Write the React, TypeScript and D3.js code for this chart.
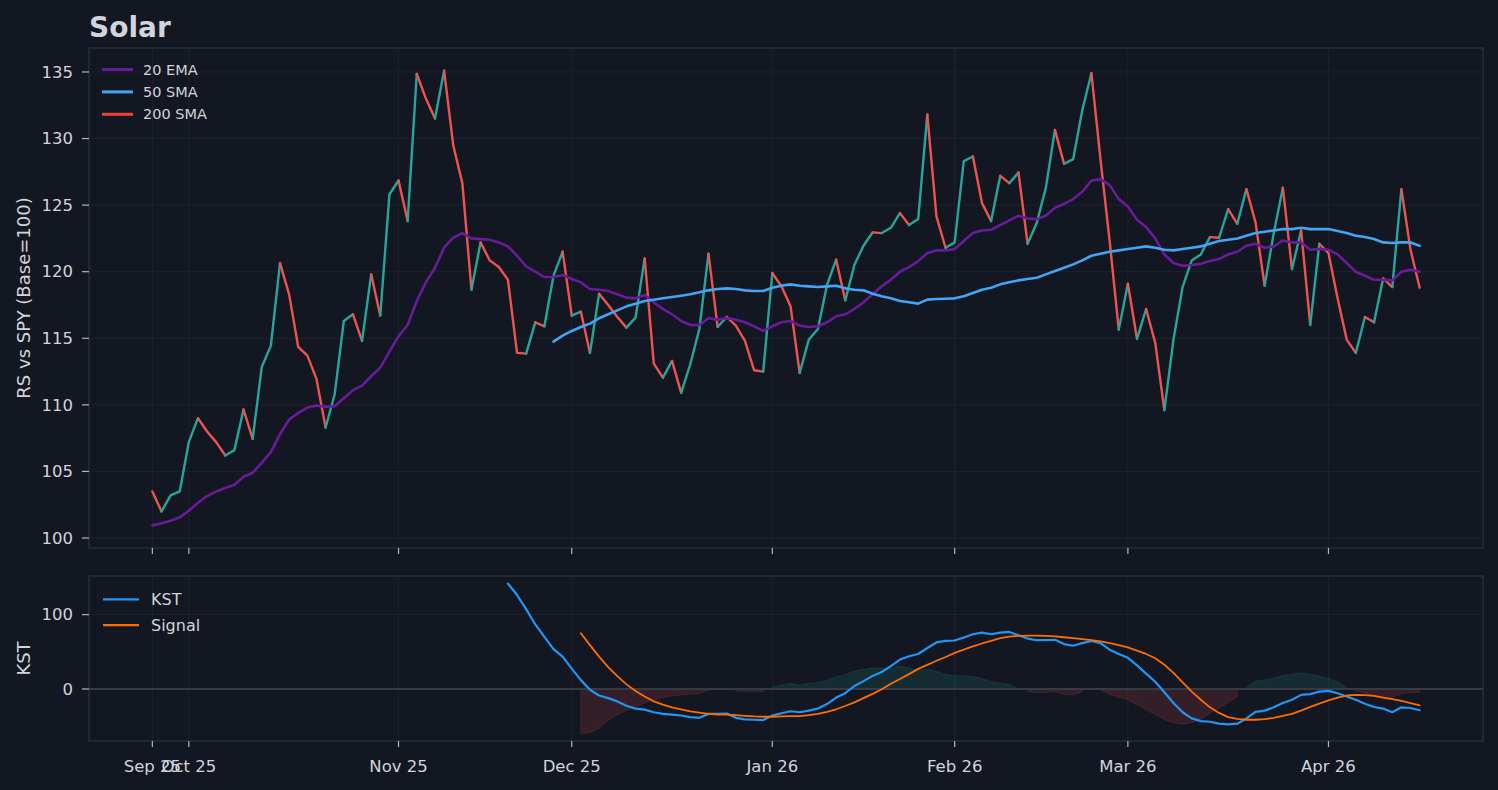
import React, { useEffect } from 'react';
import * as d3 from 'd3';

// trading-day index of each month tick, and its label
const tickIndex = [0, 4, 27, 46, 68, 88, 107, 129];
const tickLabels = ['Sep 25', 'Oct 25', 'Nov 25', 'Dec 25', 'Jan 26', 'Feb 26', 'Mar 26', 'Apr 26'];

// relative strength vs SPY, base 100 (one value per trading day)
const rsValues = [
  103.5, 102.0, 103.2, 103.5, 107.2, 109.0, 108.0, 107.2, 106.2, 106.6,
  109.65, 107.45, 112.85, 114.45, 120.65, 118.3, 114.35, 113.7, 111.95, 108.3,
  110.8, 116.3, 116.8, 114.8, 119.8, 116.7, 125.8, 126.85, 123.8, 134.85,
  133.0, 131.5, 135.1, 129.5, 126.65, 118.65, 122.2, 120.85, 120.35, 119.4,
  113.9, 113.85, 116.2, 115.9, 119.7, 121.5, 116.7, 117.0, 113.9, 118.35,
  117.5, 116.6, 115.8, 116.55, 121.0, 113.1, 112.05, 113.3, 110.9, 113.05,
  115.7, 121.35, 115.85, 116.6, 115.95, 114.8, 112.6, 112.5, 119.9, 118.9,
  117.4, 112.4, 114.9, 115.7, 119.0, 120.9, 117.85, 120.5, 121.95, 122.95,
  122.9, 123.3, 124.4, 123.5, 123.95, 131.8, 124.15, 121.8, 122.2, 128.3,
  128.65, 125.15, 123.8, 127.2, 126.65, 127.45, 122.1, 123.65, 126.3, 130.65,
  128.1, 128.45, 132.15, 134.9, 128.4, 122.3, 115.65, 119.1, 114.95, 117.2,
  114.65, 109.6, 114.9, 118.85, 120.85, 121.3, 122.6, 122.55, 124.7, 123.6,
  126.2, 123.7, 118.95, 122.9, 126.3, 120.2, 123.1, 116.0, 122.1, 121.4,
  118.0, 114.9, 113.9, 116.6, 116.2, 119.5, 118.85, 126.2, 121.65, 118.8,
];

const ema20 = [
  100.95, 101.1, 101.3, 101.55, 102.05, 102.65, 103.15, 103.5, 103.75, 104.0,
  104.6, 104.9, 105.65, 106.45, 107.8, 108.9, 109.4, 109.8, 109.95, 109.85,
  109.9, 110.5, 111.1, 111.45, 112.15, 112.8, 114.0, 115.15, 116.0, 117.8,
  119.2, 120.3, 121.8, 122.55, 122.9, 122.5, 122.45, 122.4, 122.2, 121.9,
  121.2, 120.4, 120.0, 119.6, 119.6, 119.75, 119.45, 119.2, 118.7, 118.65,
  118.55, 118.3, 118.05, 118.0, 118.25, 117.7, 117.2, 116.8, 116.3, 116.0,
  116.0, 116.5, 116.4, 116.5, 116.4, 116.2, 115.9, 115.55, 115.9, 116.2,
  116.3, 115.95, 115.85, 115.9, 116.2, 116.65, 116.8, 117.2, 117.7, 118.3,
  118.9, 119.4, 120.0, 120.35, 120.8, 121.4, 121.6, 121.6, 121.7, 122.3,
  122.9, 123.1, 123.15, 123.5, 123.85, 124.2, 124.0, 123.95, 124.2, 124.8,
  125.1, 125.45, 126.0, 126.85, 126.95, 126.5, 125.45, 124.9, 123.9, 123.35,
  122.5, 121.3, 120.65, 120.45, 120.5, 120.6, 120.8, 120.95, 121.3, 121.5,
  121.95, 122.1, 121.8, 121.9, 122.35, 122.2, 122.2, 121.65, 121.7, 121.65,
  121.3, 120.65, 120.0, 119.7, 119.4, 119.4, 119.35, 120.0, 120.15, 120.0,
];

const sma50Start = 44;
const sma50 = [
  114.75, 115.2, 115.55, 115.85, 116.1, 116.5, 116.8, 117.1, 117.4, 117.6,
  117.8, 117.9, 118.0, 118.1, 118.2, 118.3, 118.45, 118.6, 118.7, 118.75,
  118.7, 118.6, 118.55, 118.55, 118.8, 118.95, 119.05, 118.95, 118.9, 118.85,
  118.9, 118.95, 118.75, 118.65, 118.6, 118.35, 118.15, 118.0, 117.8, 117.7,
  117.6, 117.9, 117.95, 117.97, 118.0, 118.15, 118.4, 118.65, 118.8, 119.05,
  119.2, 119.35, 119.45, 119.55, 119.8, 120.05, 120.3, 120.55, 120.85, 121.2,
  121.35, 121.5, 121.6, 121.7, 121.8, 121.9, 121.8, 121.65, 121.6, 121.7,
  121.8, 121.9, 122.1, 122.3, 122.4, 122.5, 122.7, 122.9, 123.0, 123.1,
  123.2, 123.2, 123.3, 123.2, 123.2, 123.2, 123.05, 122.9, 122.7, 122.6,
  122.45, 122.2, 122.15, 122.2, 122.2, 121.95,
];

const kstStart = 39;
const kst = [
  141.9, 126.4, 107.5, 86.8, 70.0, 53.7, 43.6, 27.3, 11.9, -1.0,
  -8.8, -12.3, -16.7, -22.5, -26.4, -27.8, -31.3, -33.5, -34.4, -35.7,
  -37.9, -38.8, -33.5, -33.5, -33.0, -38.8, -41.0, -41.4, -41.9, -35.7,
  -32.6, -30.0, -31.3, -29.1, -26.4, -20.3, -11.5, -5.7, 4.0, 10.6,
  17.6, 22.9, 30.8, 39.6, 44.1, 47.1, 55.1, 62.6, 64.8, 65.2,
  69.2, 73.6, 75.8, 73.6, 75.8, 76.7, 72.2, 67.8, 65.6, 65.6,
  66.1, 60.4, 58.1, 61.7, 64.8, 61.7, 52.9, 47.1, 41.9, 31.7,
  20.7, 9.7, -4.4, -18.9, -31.3, -39.6, -43.2, -44.1, -46.7, -47.6,
  -46.7, -39.6, -30.8, -29.1, -24.7, -18.9, -14.5, -7.9, -7.0, -3.5,
  -2.6, -5.7, -10.1, -14.5, -19.8, -24.2, -26.4, -31.3, -24.7, -25.6,
  -28.6,
];

const signalStart = 47;
const kstSignal = [
  74.9, 59.0, 43.6, 29.5, 17.2, 6.2, -2.6, -10.1, -16.7, -21.1,
  -24.7, -27.3, -30.0, -31.7, -33.5, -34.4, -34.4, -35.2, -36.1, -37.0,
  -37.4, -37.4, -37.0, -36.6, -36.6, -35.2, -33.5, -30.8, -27.3, -22.9,
  -18.1, -12.3, -6.6, -0.4, 7.0, 13.5, 20.0, 27.0, 32.5, 38.0,
  43.0, 48.5, 53.0, 57.3, 61.2, 64.8, 68.3, 70.5, 71.4, 71.8,
  71.8, 71.4, 70.9, 69.6, 68.3, 67.0, 65.6, 63.9, 61.7, 59.0,
  55.9, 51.5, 47.1, 41.4, 32.6, 21.6, 8.8, -3.5, -14.5, -24.7,
  -32.2, -37.9, -40.1, -41.4, -41.4, -40.5, -38.8, -36.1, -33.5, -29.1,
  -24.2, -19.8, -15.4, -11.5, -8.8, -7.9, -8.4, -9.3, -11.5, -13.7,
  -15.9, -18.9, -22.0,
];

const histStart = 47;
const kstHist = [
  -59.9, -58.6, -52.9, -42.3, -34.4, -29.1, -24.2, -18.9, -14.5, -11.5,
  -9.3, -7.9, -7.0, -6.2, -1.5, -0.5, 0.5, -2.6, -3.5, -3.5,
  -3.5, 2.6, 5.3, 7.5, 5.3, 7.5, 8.8, 11.9, 16.3, 19.4,
  24.2, 26.4, 28.2, 28.2, 27.3, 30.8, 28.2, 25.1, 26.4, 23.8,
  19.4, 18.0, 17.6, 16.7, 14.1, 9.7, 7.9, 6.2, 0.4, -3.5,
  -4.8, -4.4, -3.5, -7.0, -7.9, -3.5, 0.4, -1.3, -7.0, -11.5,
  -14.5, -21.1, -27.8, -34.4, -41.0, -45.4, -47.6, -45.4, -41.0, -32.2,
  -25.6, -18.1, -10.1, 1.8, 10.6, 12.3, 15.0, 18.5, 19.4, 22.0,
  19.4, 17.6, 14.1, 9.7, 1.8, -2.6, -5.7, -10.1, -12.3, -11.5,
  -6.2, -4.8, -4.8,
];

const upperTicks = [100, 105, 110, 115, 120, 125, 130, 135];
const lowerTicks = [0, 100];

const BG = '#131722';
const GRID = '#1e222d';
const SPINE = '#2a2e39';
const TEXT = '#d1d4dc';
const FONT = '"DejaVu Sans", sans-serif';

const W = 1498;
const H = 790;
const left = 89;
const right = 1483;
const top1 = 48;
const bottom1 = 548;
const top2 = 576;
const bottom2 = 741;

const App: React.FC = () => {
  useEffect(() => {
    document.body.style.margin = '0';
    document.body.style.background = BG;
  }, []);

  const x = d3.scaleLinear().domain([-6.95, 145.95]).range([left, right]);
  const y1 = d3.scaleLinear().domain([99.25, 136.8]).range([bottom1, top1]);
  const y2 = d3.scaleLinear().domain([-70, 152]).range([bottom2, top2]);

  const upLine = d3.line<number>().x((_, i) => x(i)).y(d => y1(d));
  const smaLine = d3.line<number>().x((_, i) => x(i + sma50Start)).y(d => y1(d));
  const kstLine = d3.line<number>().x((_, i) => x(i + kstStart)).y(d => y2(d));
  const sigLine = d3.line<number>().x((_, i) => x(i + signalStart)).y(d => y2(d));

  const histPos = d3.area<number>()
    .defined(d => d >= 0)
    .x((_, i) => x(i + histStart))
    .y0(y2(0))
    .y1(d => y2(d));
  const histNeg = d3.area<number>()
    .defined(d => d < 0)
    .x((_, i) => x(i + histStart))
    .y0(y2(0))
    .y1(d => y2(d));

  // split the RS line into runs of rising / falling segments
  const runs: { up: boolean; pts: [number, number][] }[] = [];
  for (let i = 0; i < rsValues.length - 1; i++) {
    const up = rsValues[i + 1] >= rsValues[i];
    const last = runs[runs.length - 1];
    if (last && last.up === up) {
      last.pts.push([i + 1, rsValues[i + 1]]);
    } else {
      runs.push({ up, pts: [[i, rsValues[i]], [i + 1, rsValues[i + 1]]] });
    }
  }
  const runLine = d3.line<[number, number]>().x(d => x(d[0])).y(d => y1(d[1]));

  const upperLegend = [
    { label: '20 EMA', color: '#6a1b9a' },
    { label: '50 SMA', color: '#42a5f5' },
    { label: '200 SMA', color: '#f44336' },
  ];
  const lowerLegend = [
    { label: 'KST', color: '#2196f3' },
    { label: 'Signal', color: '#ff6d00' },
  ];

  return (
    <svg width={W} height={H} style={{ display: 'block', background: BG }} fontFamily={FONT}>
      <defs>
        <clipPath id="clip1"><rect x={left} y={top1} width={right - left} height={bottom1 - top1} /></clipPath>
        <clipPath id="clip2"><rect x={left} y={top2} width={right - left} height={bottom2 - top2} /></clipPath>
      </defs>

      <text x={89} y={37} fill={TEXT} fontSize={28} fontWeight="bold">Solar</text>

      {/* upper panel grid */}
      {upperTicks.map(t => (
        <line key={'g1y' + t} x1={left} x2={right} y1={y1(t)} y2={y1(t)} stroke={GRID} strokeWidth={1} />
      ))}
      {tickIndex.map(t => (
        <line key={'g1x' + t} x1={x(t)} x2={x(t)} y1={top1} y2={bottom1} stroke={GRID} strokeWidth={1} />
      ))}

      <g clipPath="url(#clip1)" fill="none" strokeLinejoin="round" strokeLinecap="round">
        {runs.map((r, i) => (
          <path key={'rs' + i} d={runLine(r.pts) || ''} stroke={r.up ? '#26a69a' : '#ef5350'} strokeWidth={2.4} />
        ))}
        <path d={upLine(ema20) || ''} stroke="#6a1b9a" strokeWidth={2.6} />
        <path d={smaLine(sma50) || ''} stroke="#42a5f5" strokeWidth={2.6} />
      </g>

      <rect x={left} y={top1} width={right - left} height={bottom1 - top1} fill="none" stroke={SPINE} strokeWidth={1.5} />

      {upperTicks.map(t => (
        <g key={'t1y' + t}>
          <line x1={82} x2={left} y1={y1(t)} y2={y1(t)} stroke="#b2b5be" strokeWidth={1.2} />
          <text x={73} y={y1(t)} dy="0.35em" textAnchor="end" fill={TEXT} fontSize={16.5}>{t}</text>
        </g>
      ))}
      {tickIndex.map(t => (
        <line key={'t1x' + t} x1={x(t)} x2={x(t)} y1={bottom1} y2={bottom1 + 6} stroke="#b2b5be" strokeWidth={1.2} />
      ))}

      <text transform={`translate(30, ${(top1 + bottom1) / 2}) rotate(-90)`} textAnchor="middle" fill={TEXT} fontSize={18}>
        RS vs SPY (Base=100)
      </text>

      {upperLegend.map((l, i) => (
        <g key={'l1' + l.label} transform={`translate(102, ${69.5 + i * 22.4})`}>
          <line x1={0} x2={31} y1={0} y2={0} stroke={l.color} strokeWidth={3} />
          <text x={41} y={0} dy="0.35em" fill={TEXT} fontSize={14.5}>{l.label}</text>
        </g>
      ))}

      {/* lower panel */}
      {lowerTicks.map(t => (
        <line key={'g2y' + t} x1={left} x2={right} y1={y2(t)} y2={y2(t)} stroke={GRID} strokeWidth={1} />
      ))}
      {tickIndex.map(t => (
        <line key={'g2x' + t} x1={x(t)} x2={x(t)} y1={top2} y2={bottom2} stroke={GRID} strokeWidth={1} />
      ))}

      <g clipPath="url(#clip2)">
        <path d={histPos(kstHist) || ''} fill="rgba(38,166,154,0.15)" stroke="rgba(38,166,154,0.15)" strokeWidth={1} />
        <path d={histNeg(kstHist) || ''} fill="rgba(239,83,80,0.15)" stroke="rgba(239,83,80,0.15)" strokeWidth={1} />
        <line x1={left} x2={right} y1={y2(0)} y2={y2(0)} stroke="#363a45" strokeWidth={2} />
        <g fill="none" strokeLinejoin="round" strokeLinecap="round">
          <path d={kstLine(kst) || ''} stroke="#2196f3" strokeWidth={2.2} />
          <path d={sigLine(kstSignal) || ''} stroke="#ff6d00" strokeWidth={1.8} />
        </g>
      </g>

      <rect x={left} y={top2} width={right - left} height={bottom2 - top2} fill="none" stroke={SPINE} strokeWidth={1.5} />

      {lowerTicks.map(t => (
        <g key={'t2y' + t}>
          <line x1={82} x2={left} y1={y2(t)} y2={y2(t)} stroke="#b2b5be" strokeWidth={1.2} />
          <text x={73} y={y2(t)} dy="0.35em" textAnchor="end" fill={TEXT} fontSize={16.5}>{t}</text>
        </g>
      ))}
      {tickIndex.map((t, i) => (
        <g key={'t2x' + t}>
          <line x1={x(t)} x2={x(t)} y1={bottom2} y2={bottom2 + 6} stroke="#b2b5be" strokeWidth={1.2} />
          <text x={x(t)} y={766} dy="0.35em" textAnchor="middle" fill={TEXT} fontSize={16.5}>{tickLabels[i]}</text>
        </g>
      ))}

      <text transform={`translate(30, ${(top2 + bottom2) / 2}) rotate(-90)`} textAnchor="middle" fill={TEXT} fontSize={18}>
        KST
      </text>

      {lowerLegend.map((l, i) => (
        <g key={'l2' + l.label} transform={`translate(103, ${599.3 + i * 25.8})`}>
          <line x1={0} x2={36} y1={0} y2={0} stroke={l.color} strokeWidth={2.2} />
          <text x={48} y={0} dy="0.35em" fill={TEXT} fontSize={16}>{l.label}</text>
        </g>
      ))}
    </svg>
  );
};

export default App;
